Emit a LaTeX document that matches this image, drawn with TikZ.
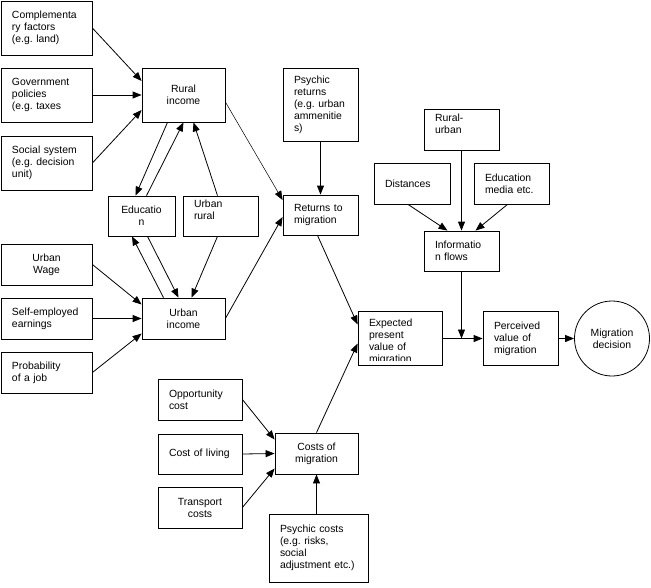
\documentclass[tikz,border=0pt]{standalone}
\usepackage{fontspec}
\setmainfont{Liberation Sans}
\usetikzlibrary{arrows.meta}
\frenchspacing

\begin{document}
\begin{tikzpicture}[x=1pt,y=-1pt,
		box/.style={draw,line width=.8pt,inner sep=0pt,align=left,font=\fontsize{10.4}{12}\selectfont},
		cbox/.style={box,align=center},
		arr/.style={-{Triangle[length=9pt,width=7pt]},line width=.8pt}]
	\useasboundingbox (0,0) rectangle (651,587);

	\node[box,minimum width=91pt,minimum height=54pt,text width=69pt] (comp) at (46.5,28) {Complementa\\ry factors\\(e.g. land)};
	\node[box,minimum width=91pt,minimum height=54pt,text width=69pt] (gov) at (46.5,95) {Government\\policies\\(e.g. taxes};
	\node[box,minimum width=91pt,minimum height=54pt,text width=69pt] (soc) at (46.5,163) {Social system\\(e.g. decision\\unit)};
	\node[cbox,minimum width=83pt,minimum height=54pt] (rural) at (183.5,95) {Rural\\income};
	\node[cbox,minimum width=67pt,minimum height=40pt] (educ) at (141.5,216) {Educatio\\n};
	\node[box,minimum width=75pt,minimum height=40pt,text width=53pt] (urbrur) at (220.5,216) {Urban\\rural\\\mbox{}};
	\node[cbox,minimum width=91pt,minimum height=41pt] (wage) at (46.5,264.5) {Urban\\Wage};
	\node[box,minimum width=91pt,minimum height=41pt,text width=69pt] (self) at (46.5,318.5) {Self-employed\\earnings};
	\node[box,minimum width=91pt,minimum height=41pt,text width=69pt] (prob) at (46.5,372.5) {Probability\\of a job};
	\node[cbox,minimum width=83pt,minimum height=41pt] (urbinc) at (183.5,318.5) {Urban\\income};

	\node[box,minimum width=75pt,minimum height=73pt,text width=53pt] (psyret) at (320.5,104.5) {Psychic\\returns\\(e.g. urban\\ammenitie\\s)};
	\node[box,minimum width=75pt,minimum height=40pt,text width=53pt] (returns) at (320.5,215) {Returns to\\migration};
	\node[box,minimum width=75pt,minimum height=41pt,text width=53pt] (rurur) at (461.5,129.5) {Rural-\\urban\\\mbox{}};
	\node[box,minimum width=76pt,minimum height=41pt,text width=54pt] (dist) at (412,183.5) {Distances};
	\node[box,minimum width=75pt,minimum height=41pt,text width=53pt] (edmed) at (511.5,183.5) {Education\\media etc.};
	\node[box,minimum width=75pt,minimum height=40pt,text width=53pt] (info) at (461.5,251) {Informatio\\n flows};
	\node[box,minimum width=84pt,minimum height=54pt] (exp) at (400,338.5) {};
	\begin{scope}
		\clip (exp.north west) rectangle ([yshift=5pt]exp.south east);
		\node[box,draw=none,text width=62pt] (exptext) at ([yshift=-3pt]exp.center) {Expected\\present\\value of\\migration};
	\end{scope}
	\node[box,minimum width=75pt,minimum height=54pt,text width=53pt] (perc) at (520.5,338.5) {Perceived\\value of\\migration};
	\node[cbox,circle,minimum size=75pt] (dec) at (612,338.5) {Migration\\decision};

	\node[box,minimum width=84pt,minimum height=41pt,text width=62pt] (opp) at (200,399.5) {Opportunity\\cost};
	\node[box,minimum width=84pt,minimum height=40pt,text width=62pt] (living) at (200,454) {Cost of living};
	\node[cbox,minimum width=84pt,minimum height=41pt] (transp) at (200,507.5) {Transport\\costs};
	\node[cbox,minimum width=83pt,minimum height=41pt] (costs) at (316.5,453.5) {Costs of\\migration};
	\node[box,minimum width=99pt,minimum height=68pt,text width=77pt] (psycost) at (318.5,548) {Psychic costs\\(e.g. risks,\\social\\adjustment etc.)};
	\coordinate (join) at (info.south |- exp.east);

	\draw[arr] (comp.east) -- ([yshift=14pt]rural.west);
	\draw[arr] (gov.east) -- (rural.west);
	\draw[arr] (soc.east) -- ([yshift=-15pt]rural.west);
	\draw[arr] ([xshift=-16pt]rural.south) -- ([xshift=-6pt]educ.north);
	\draw[arr] ([xshift=5pt]educ.north) -- (rural.south);
	\draw[arr] ([xshift=-3pt]urbrur.north) -- ([xshift=10pt]rural.south);
	\draw[arr,line width=.5pt] ([yshift=-7pt]rural.east) -- ([yshift=15pt]returns.west);
	\draw[arr] (urbinc.east) -- ([yshift=-2pt]returns.west);
	\draw[arr] ([xshift=-20pt]urbinc.north) -- ([xshift=-9.5pt]educ.south);
	\draw[arr] ([xshift=6pt]educ.south) -- ([xshift=-5pt]urbinc.north);
	\draw[arr] ([xshift=-3pt]urbrur.south) -- ([xshift=8pt]urbinc.north);
	\draw[arr] (wage.east) -- ([yshift=14pt]urbinc.west);
	\draw[arr] (self.east) -- (urbinc.west);
	\draw[arr] (prob.east) -- ([yshift=-15pt]urbinc.west);
	\draw[arr] (psyret.south) -- (returns.north);
	\draw[arr] ([xshift=-3pt]returns.south) -- ([yshift=14pt]exp.west);
	\draw[arr] (costs.north) -- ([yshift=-5pt]exp.west);
	\draw[arr] (opp.east) -- ([yshift=14pt]costs.west);
	\draw[arr] (living.east) -- (costs.west);
	\draw[arr] (transp.east) -- ([yshift=-15pt]costs.west);
	\draw[arr] ([xshift=-2pt]psycost.north) -- (costs.south);
	\draw[arr] ([xshift=-4pt]dist.south) -- ([xshift=-14pt]info.north);
	\draw[arr] (rurur.south) -- (info.north);
	\draw[arr] ([xshift=-4pt]edmed.south) -- ([xshift=14pt]info.north);
	\draw[arr] (info.south) -- (join);
	\draw[arr] (exp.east) -- (perc.west);
	\draw[arr] (perc.east) -- (dec.west);
\end{tikzpicture}
\end{document}
